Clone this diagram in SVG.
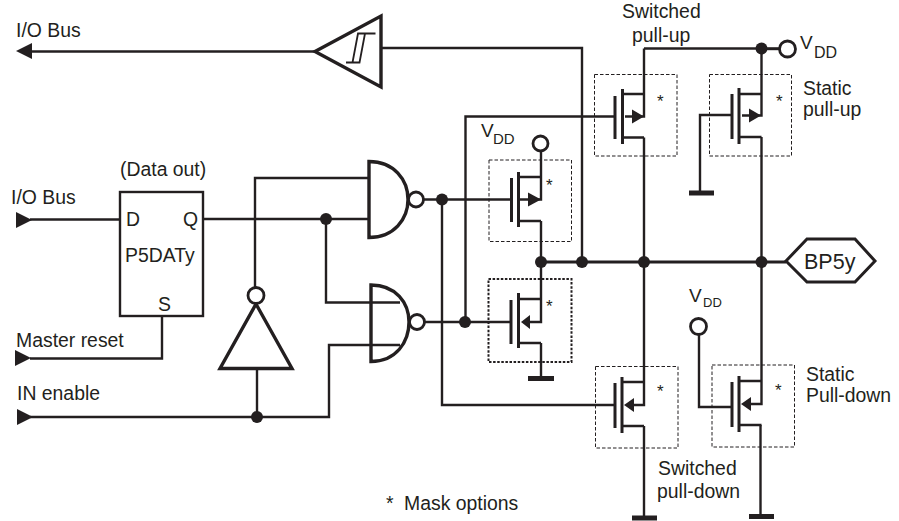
<svg xmlns="http://www.w3.org/2000/svg" width="899" height="521" viewBox="0 0 899 521">
<style>
text{font-family:"Liberation Sans",Arial,sans-serif;font-size:19.4px;fill:#231f20}
.sm{font-size:15px}
.v{font-size:19px}
.st{font-size:17px}
.w{fill:none;stroke:#231f20;stroke-width:2.4}
.g{fill:#fff;stroke:#231f20;stroke-width:3.4;stroke-linejoin:miter}
.b{fill:#fff;stroke:#231f20;stroke-width:2.8}
.d{fill:#231f20;stroke:none}
.m{fill:none;stroke:#231f20;stroke-width:1;stroke-dasharray:3.5 2}
.mb{fill:none;stroke:#231f20;stroke-width:2;stroke-dasharray:2.5 1.6}
.pl{fill:none;stroke:#231f20;stroke-width:3}
.gnd{fill:none;stroke:#231f20;stroke-width:5}
</style>
<rect width="899" height="521" fill="#fff"/>
<g id="connectors">
<path class="w" d="M315 51.500H30"/><polygon class="d" points="16,51 32,43 32,59"/>
<path class="w" d="M381 48H582V262"/>
<path class="w" d="M30 219.500H120"/><polygon class="d" points="32,220 16,212 16,228"/>
<path class="w" d="M203 219H369"/>
<path class="w" d="M255 288V178H369"/>
<path class="w" d="M326 219V302.500H400"/>
<path class="w" d="M30 358.500H162V316"/><polygon class="d" points="31,358 15,350 15,366"/>
<path class="w" d="M30 417H329V345H400"/><polygon class="d" points="33,417 17,409 17,425"/>
<path class="w" d="M257 368V417"/>
<path class="w" d="M424 199.500H511"/>
<path class="w" d="M442 199.500V405H615"/>
<path class="w" d="M425 322H511"/>
<path class="w" d="M465.500 322V116.500H615"/>
<path class="pl" d="M541 262H786"/>
<path class="w" d="M541 151V199.500H520"/>
<path class="w" d="M541 221V322H530"/>
<path class="w" d="M541 343V378"/>
<path class="w" d="M644 48.500V116.500H625"/>
<path class="w" d="M644 48.500H780"/>
<path class="w" d="M644 137.500V405H634"/>
<path class="w" d="M644 426V518"/>
<path class="w" d="M761.500 48.500V115.500H742"/>
<path class="w" d="M761.500 137V404H751"/>
<path class="w" d="M760.500 425V516"/>
<path class="w" d="M732 115H700V192"/>
<path class="w" d="M732 407H699V334"/>
<circle class="d" cx="326" cy="219" r="6"/>
<circle class="d" cx="257" cy="417" r="6"/>
<circle class="d" cx="442" cy="199.500" r="6"/>
<circle class="d" cx="465" cy="322" r="6"/>
<circle class="d" cx="541" cy="262" r="6"/>
<circle class="d" cx="582" cy="262" r="6"/>
<circle class="d" cx="644" cy="262" r="6"/>
<circle class="d" cx="761.500" cy="262" r="6"/>
<circle class="d" cx="761.500" cy="48.500" r="6"/>
</g>
<g id="schmitt-buffer">
<polygon class="g" points="315,51.500 381,16 381,87"/>
<path fill="none" stroke="#231f20" stroke-width="1.8" d="M375.500 33.500H358L352.500 62.500H346M365 33.500L359.500 62.500H352.500"/>
</g>
<g id="label-io-out"><text x="16" y="37">I/O Bus</text></g>
<g id="label-io-in"><text x="11" y="204">I/O Bus</text></g>
<g id="label-data-out"><text x="120" y="176">(Data out)</text></g>
<g id="label-master-reset"><text x="16" y="347">Master reset</text></g>
<g id="label-in-enable"><text x="17" y="400">IN enable</text></g>
<g id="p5daty">
<rect x="120" y="192" width="83" height="124" fill="#fff" stroke="#231f20" stroke-width="2.400"/>
<text x="126" y="226">D</text><text x="183" y="226">Q</text><text x="125" y="262">P5DATy</text><text x="158" y="311">S</text>
</g>
<g id="nand-1">
<path class="g" d="M369 161.500C394 161.500 408 180 408 199.500C408 219 394 237.500 369 237.500Z"/>
<circle class="b" cx="416" cy="199.500" r="7.500"/>
</g>
<g id="nand-2">
<path class="g" style="fill:none" d="M371 285C396 285 409 303 409 322C409 342 396 361.500 371 361.500Z"/>
<circle class="b" cx="417" cy="322" r="7.500"/>
</g>
<g id="inverter">
<polygon class="g" points="256,304 292,368.500 220,368.500"/>
<circle class="b" cx="256" cy="295.500" r="8"/>
</g>
<g id="m1">
<rect class="m" x="489" y="160" width="82.500" height="81.500"/>
<path class="pl" d="M511.500 178V222M518.500 172V227"/>
<path class="w" d="M518 177H541M518 221H541"/>
<polygon class="d" points="541,199.500 528,192.500 528,206.500"/>
<text class="st" x="546" y="191">*</text>
<circle class="b" cx="540.500" cy="143.500" r="7.500"/>
<text class="v" x="481" y="137">V</text><text class="sm" x="493" y="144">DD</text>
</g>
<g id="m2">
<rect class="mb" x="488.500" y="279" width="83" height="83"/>
<path class="pl" d="M511 300V344M518.500 293V348"/>
<path class="w" d="M518 299H541M518 343H541"/>
<polygon class="d" points="521,322 530,315 530,329"/>
<text class="st" x="546" y="312">*</text>
<path class="gnd" d="M528 378.500H554"/>
</g>
<g id="m3">
<rect class="m" x="594.500" y="74.500" width="82.500" height="81.500"/>
<path class="pl" d="M615 96V139M622.500 89V144"/>
<path class="w" d="M622 94H644M622 137.500H644"/>
<polygon class="d" points="644,116.500 632,109.500 632,123.500"/>
<text class="st" x="657" y="107">*</text>
</g>
<g id="m4">
<rect class="m" x="709.500" y="74.500" width="82" height="81.500"/>
<path class="pl" d="M732 94V139M739 88V144"/>
<path class="w" d="M739 94H761.500M739 137H761.500"/>
<polygon class="d" points="761,115.500 749,108.500 749,122.500"/>
<text class="st" x="776" y="107">*</text>
<path class="gnd" d="M689 193H714"/>
<path class="w" d="M767 49H780"/>
<circle class="b" cx="787.500" cy="49" r="8"/>
<text class="v" x="800" y="49">V</text><text class="v" style="font-size:16px" x="814" y="58">DD</text>
</g>
<g id="m5">
<rect class="m" x="595.500" y="366.500" width="82.500" height="81.500"/>
<path class="pl" d="M615 383V428M622 377V433"/>
<path class="w" d="M622 382H644M622 426H644"/>
<polygon class="d" points="624,405 634,398 634,412"/>
<text class="st" x="657" y="397">*</text>
<path class="gnd" d="M632 518H657"/>
</g>
<g id="m6">
<rect class="m" x="712" y="365" width="82.500" height="82"/>
<path class="pl" d="M732 382V427M739 376V432"/>
<path class="w" d="M739 381H761.500M739 425H761.500"/>
<polygon class="d" points="741,404 751,397 751,411"/>
<text class="st" x="775" y="396">*</text>
<path class="gnd" d="M749 516.500H774"/>
<circle class="b" cx="698.500" cy="326.500" r="8"/>
<text class="v" x="689" y="302">V</text><text class="sm" style="font-size:13px" x="703" y="307">DD</text>
</g>
<g id="bp5y">
<polygon fill="#fff" stroke="#231f20" stroke-width="3" points="786,261 807,239 855,239 875,261 855,282 807,282"/>
<text style="font-size:21.5px" x="804" y="269">BP5y</text>
</g>
<g id="label-switched-up"><text x="622" y="18">Switched</text><text x="632" y="42">pull-up</text></g>
<g id="label-static-up"><text x="803" y="95">Static</text><text x="803" y="116">pull-up</text></g>
<g id="label-static-down"><text x="806" y="381">Static</text><text x="806" y="402">Pull-down</text></g>
<g id="label-switched-down"><text x="658" y="475">Switched</text><text x="657" y="498">pull-down</text></g>
<g id="label-mask"><text x="386" y="510">*</text><text x="404" y="510">Mask options</text></g>
</svg>
